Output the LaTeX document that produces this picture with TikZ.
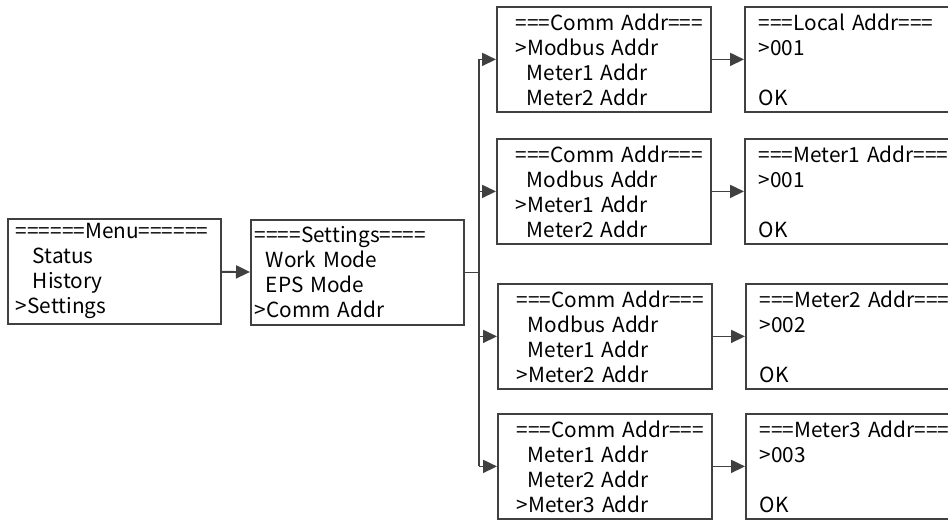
\documentclass[tikz,border=0pt]{standalone}
\usepackage{fontspec}
\newfontfamily\screenfont{Noto Sans CJK SC}
\usepackage{xcolor}
\usetikzlibrary{arrows.meta, positioning, calc}
\definecolor{linegray}{HTML}{404040}
\newcommand{\ind}[1][11pt]{\hspace*{#1}}

\begin{document}
\begin{tikzpicture}[x=1pt, y=-1pt,
    screen/.style={draw=linegray, line width=1.8pt, anchor=north west, align=left,
      inner xsep=0pt, inner ysep=0pt, minimum height=105pt,
      font=\screenfont\fontsize{20.8}{25}\selectfont},
    pad/.style={execute at begin node={\leftskip=#1\rightskip=0pt plus 1fil}},
    link/.style={draw=linegray, line width=1.8pt},
    arrow/.style={link, -{Triangle[length=14pt, width=13pt]}}]
  \clip (0,0) rectangle (948,520);
  \fill[white] (0,0) rectangle (948,520);

  % first two menus
  \node[screen, pad=8pt, text width=213pt] (menu) at (7,218)
    {======Menu======\\ \ind[17pt]Status\\ \ind[17pt]History\\ >Settings};
  \node[screen, pad=4pt, text width=213pt] (settings) at (250,219)
    {====Settings====\\ \ind Work Mode\\ \ind EPS Mode\\ >Comm Addr};
  \draw[arrow] (menu) -- (settings);

  % Comm Addr screens
  \node[screen, pad=19pt, text width=214pt] (comm1) at (496,6)
    {===Comm Addr===\\ >Modbus Addr\\ \ind Meter1 Addr\\ \ind Meter2 Addr};
  \node[screen, pad=19pt, text width=214pt] (comm2) at (496,138)
    {===Comm Addr===\\ \ind Modbus Addr\\ >Meter1 Addr\\ \ind Meter2 Addr};
  \node[screen, pad=19pt, text width=214pt] (comm3) at (497,283)
    {===Comm Addr===\\ \ind Modbus Addr\\ \ind Meter1 Addr\\ >Meter2 Addr};
  \node[screen, pad=19pt, text width=214pt] (comm4) at (497,413)
    {===Comm Addr===\\ \ind Meter1 Addr\\ \ind Meter2 Addr\\ >Meter3 Addr};

  % address screens, cut by the right edge
  \node[screen, pad=14pt, text width=250pt] (addr1) at (744,6)
    {===Local Addr===\\ >001\\ ~\\ OK};
  \node[screen, pad=14pt, text width=250pt] (addr2) at (744,138)
    {===Meter1 Addr===\\ >001\\ ~\\ OK};
  \node[screen, pad=14pt, text width=250pt] (addr3) at (745,283)
    {===Meter2 Addr===\\ >002\\ ~\\ OK};
  \node[screen, pad=14pt, text width=250pt] (addr4) at (745,413)
    {===Meter3 Addr===\\ >003\\ ~\\ OK};

  \coordinate (split) at ([xshift=14pt]settings.east);
  \draw[link] (settings.east) -- (split);
  \draw[link] (split |- comm1.west) -- (split |- comm4.west);
  \foreach \i in {1,...,4}{
    \draw[arrow] (split |- comm\i.west) -- (comm\i.west);
    \draw[arrow] (comm\i.east) -- (addr\i.west);
  }
\end{tikzpicture}
\end{document}
